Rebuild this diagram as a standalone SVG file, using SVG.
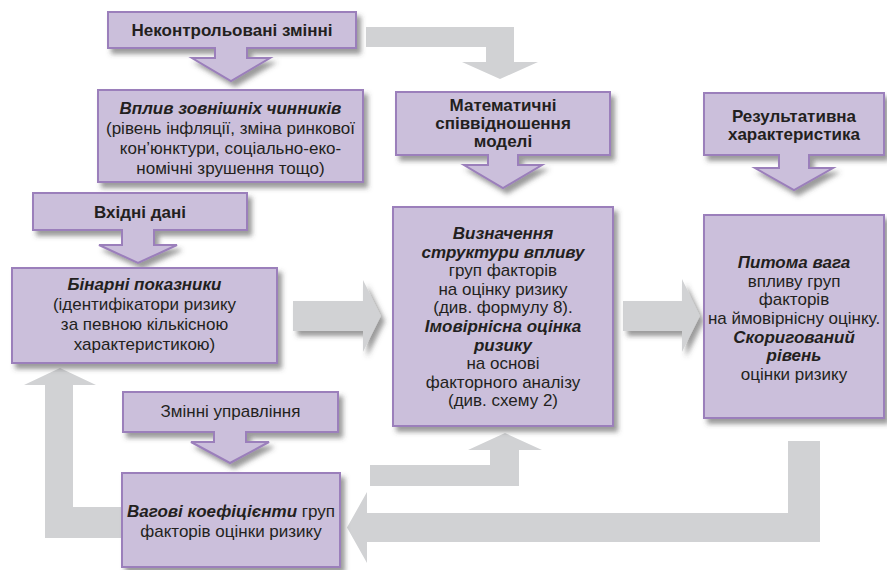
<svg xmlns="http://www.w3.org/2000/svg" width="887" height="570" viewBox="0 0 887 570">
<defs>
<filter id="sh" x="-10%" y="-10%" width="130%" height="140%">
<feDropShadow dx="4" dy="5" stdDeviation="2.5" flood-color="#4a4a4a" flood-opacity="0.55"/>
</filter>
<style>
.box{fill:#cbbfdb;stroke:#9b7fbb;stroke-width:2;filter:url(#sh);}
.gr{fill:#d1d2d4;}
.grs{fill:#d1d2d4;filter:url(#sh);}
text{font-family:"Liberation Sans",Arial,sans-serif;font-size:17px;fill:#231f20;text-anchor:middle;}
.b{font-weight:bold;}
.bi{font-weight:bold;font-style:italic;}
</style>
</defs>
<rect width="887" height="570" fill="#ffffff"/>
<g id="connectors">
<path class="gr" d="M366,27 H514 V62 H538 L500,79 L462,62 H486 V47 H366 Z"/>
<path class="grs" d="M293,301 H363 V280 L381,316 L363,352 V331 H293 Z"/>
<path class="grs" d="M623,301 H682 V279 L700,316 L682,352 V331 H623 Z"/>
<path class="gr" d="M820,441 V542 H367 V563 L347,527.5 L367,492 V513 H788 V441 Z"/>
<path class="gr" d="M370,465 H490 V450 H468 L505,433 L542,450 H519 V486 H370 Z"/>
<path class="gr" d="M45,538 V385 H24 L60,368 L96,385 H73 V507 H122 V538 Z"/>
</g>
<g id="uncontrolled">
<path class="box" d="M108,12 H356 V48 H247 V58 H270 L231,81 L192,58 H215 V48 H108 Z"/>
<text class="b" x="232" y="36">Неконтрольовані змінні</text>
</g>
<g id="external">
<rect class="box" x="98" y="90" width="265" height="92"/>
<text x="230.5" y="114"><tspan class="bi">Вплив зовнішніх чинників</tspan></text>
<text x="230.5" y="134">(рівень інфляції, зміна ринкової</text>
<text x="230.5" y="154">кон’юнктури, соціально-еко-</text>
<text x="230.5" y="174">номічні зрушення тощо)</text>
</g>
<g id="input">
<path class="box" d="M33,193 H247 V230 H154 V245 H177 L138,263 L99,245 H122 V230 H33 Z"/>
<text class="b" x="140" y="218">Вхідні дані</text>
</g>
<g id="binary">
<rect class="box" x="12" y="268" width="265" height="95"/>
<text x="144.5" y="290"><tspan class="bi">Бінарні показники</tspan></text>
<text x="144.5" y="310">(ідентифікатори ризику</text>
<text x="144.5" y="330">за певною кількісною</text>
<text x="144.5" y="350">характеристикою)</text>
</g>
<g id="math">
<path class="box" d="M396,92 H610 V155 H518 V165 H542 L503,188 L464,165 H488 V155 H396 Z"/>
<text class="b" x="503" y="111">Математичні</text>
<text class="b" x="503" y="129">співвідношення</text>
<text class="b" x="503" y="147">моделі</text>
</g>
<g id="structure">
<rect class="box" x="393" y="207" width="220" height="219"/>
<text class="bi" x="503" y="239">Визначення</text>
<text class="bi" x="503" y="257.5">структури впливу</text>
<text x="503" y="276">груп факторів</text>
<text x="503" y="294.5">на оцінку ризику</text>
<text x="503" y="313">(див. формулу 8).</text>
<text class="bi" x="503" y="332">Імовірнісна оцінка</text>
<text class="bi" x="503" y="350.5">ризику</text>
<text x="503" y="369">на основі</text>
<text x="503" y="387.5">факторного аналізу</text>
<text x="503" y="406">(див. схему 2)</text>
</g>
<g id="result">
<path class="box" d="M704,93 H884 V155 H809 V168 H833 L794,190 L755,168 H779 V155 H704 Z"/>
<text class="b" x="794" y="122">Результативна</text>
<text class="b" x="794" y="140">характеристика</text>
</g>
<g id="share">
<rect class="box" x="704" y="215" width="180" height="203"/>
<text class="bi" x="794" y="268">Питома вага</text>
<text x="794" y="287">впливу груп</text>
<text x="794" y="305">факторів</text>
<text x="794" y="324">на ймовірнісну оцінку.</text>
<text class="bi" x="794" y="343">Скоригований</text>
<text class="bi" x="794" y="361">рівень</text>
<text x="794" y="380">оцінки ризику</text>
</g>
<g id="control">
<path class="box" d="M123,392 H338 V432 H246 V442 H269 L230,463 L191,442 H214 V432 H123 Z"/>
<text x="230.5" y="417">Змінні управління</text>
</g>
<g id="weights">
<rect class="box" x="122" y="473" width="218" height="94"/>
<text x="231" y="517"><tspan class="bi">Вагові коефіцієнти</tspan> груп</text>
<text x="231" y="537">факторів оцінки ризику</text>
</g>
</svg>
